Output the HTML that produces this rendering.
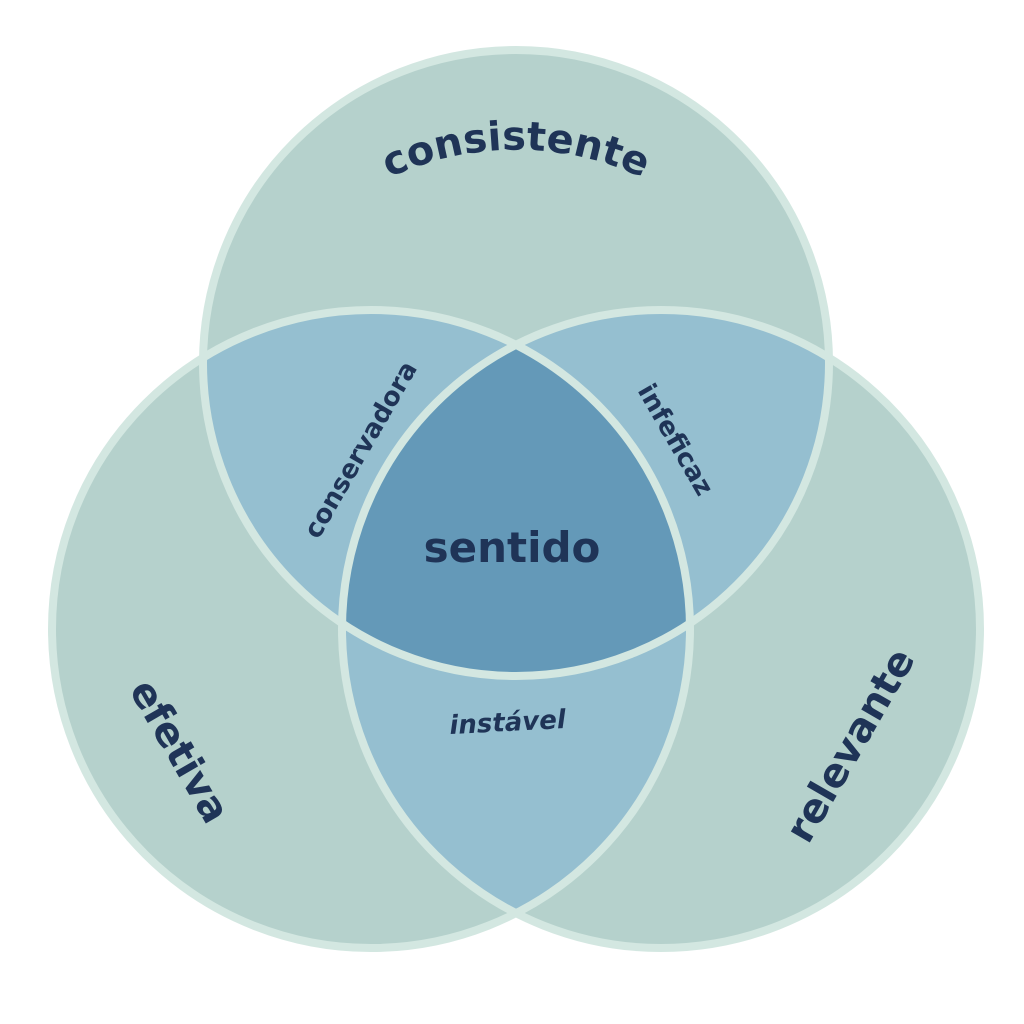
<!DOCTYPE html>
<html><head><meta charset="utf-8"><style>
html,body{margin:0;padding:0;background:#fff;width:1024px;height:1024px;overflow:hidden}
text{font-family:"DejaVu Sans","Liberation Sans",sans-serif;fill:#1f3457;font-weight:bold}
</style></head><body>
<svg width="1024" height="1024" viewBox="0 0 1024 1024" xmlns="http://www.w3.org/2000/svg">
<defs>
<clipPath id="cT"><circle cx="516" cy="363" r="313"/></clipPath>
<clipPath id="cL"><circle cx="371" cy="629" r="319"/></clipPath>
<clipPath id="cR"><circle cx="661" cy="629" r="319"/></clipPath>
<path id="arc" d="M 236 342 A 300 300 0 0 1 796 342"/>
</defs>
<circle cx="516" cy="363" r="313" fill="#b5d1cc"/>
<circle cx="371" cy="629" r="319" fill="#b5d1cc"/>
<circle cx="661" cy="629" r="319" fill="#b5d1cc"/>
<g clip-path="url(#cT)"><circle cx="371" cy="629" r="319" fill="#95bfd0"/><circle cx="661" cy="629" r="319" fill="#95bfd0"/></g>
<g clip-path="url(#cL)"><circle cx="661" cy="629" r="319" fill="#95bfd0"/></g>
<g clip-path="url(#cT)"><g clip-path="url(#cL)"><circle cx="661" cy="629" r="319" fill="#6499b8"/></g></g>
<g fill="none" stroke="#d3e7e1" stroke-width="8">
<circle cx="516" cy="363" r="313"/>
<circle cx="371" cy="629" r="319"/>
<circle cx="661" cy="629" r="319"/>
</g>
<text font-size="40" text-anchor="middle"><textPath href="#arc" startOffset="50%">consistente</textPath></text>
<text font-size="42" text-anchor="middle" x="512" y="562">sentido</text>
<text font-size="26" text-anchor="middle" font-style="italic" transform="translate(508,731) rotate(-3)">instável</text>
<text font-size="26" text-anchor="middle" transform="translate(368,454) rotate(-60)">conservadora</text>
<text font-size="26" text-anchor="middle" transform="translate(668,444) rotate(60)">infeficaz</text>
<text font-size="40" text-anchor="middle" transform="translate(168,758) rotate(60)">efetiva</text>
<text font-size="40" text-anchor="middle" transform="translate(862,752) rotate(-60)">relevante</text>
</svg>
</body></html>
